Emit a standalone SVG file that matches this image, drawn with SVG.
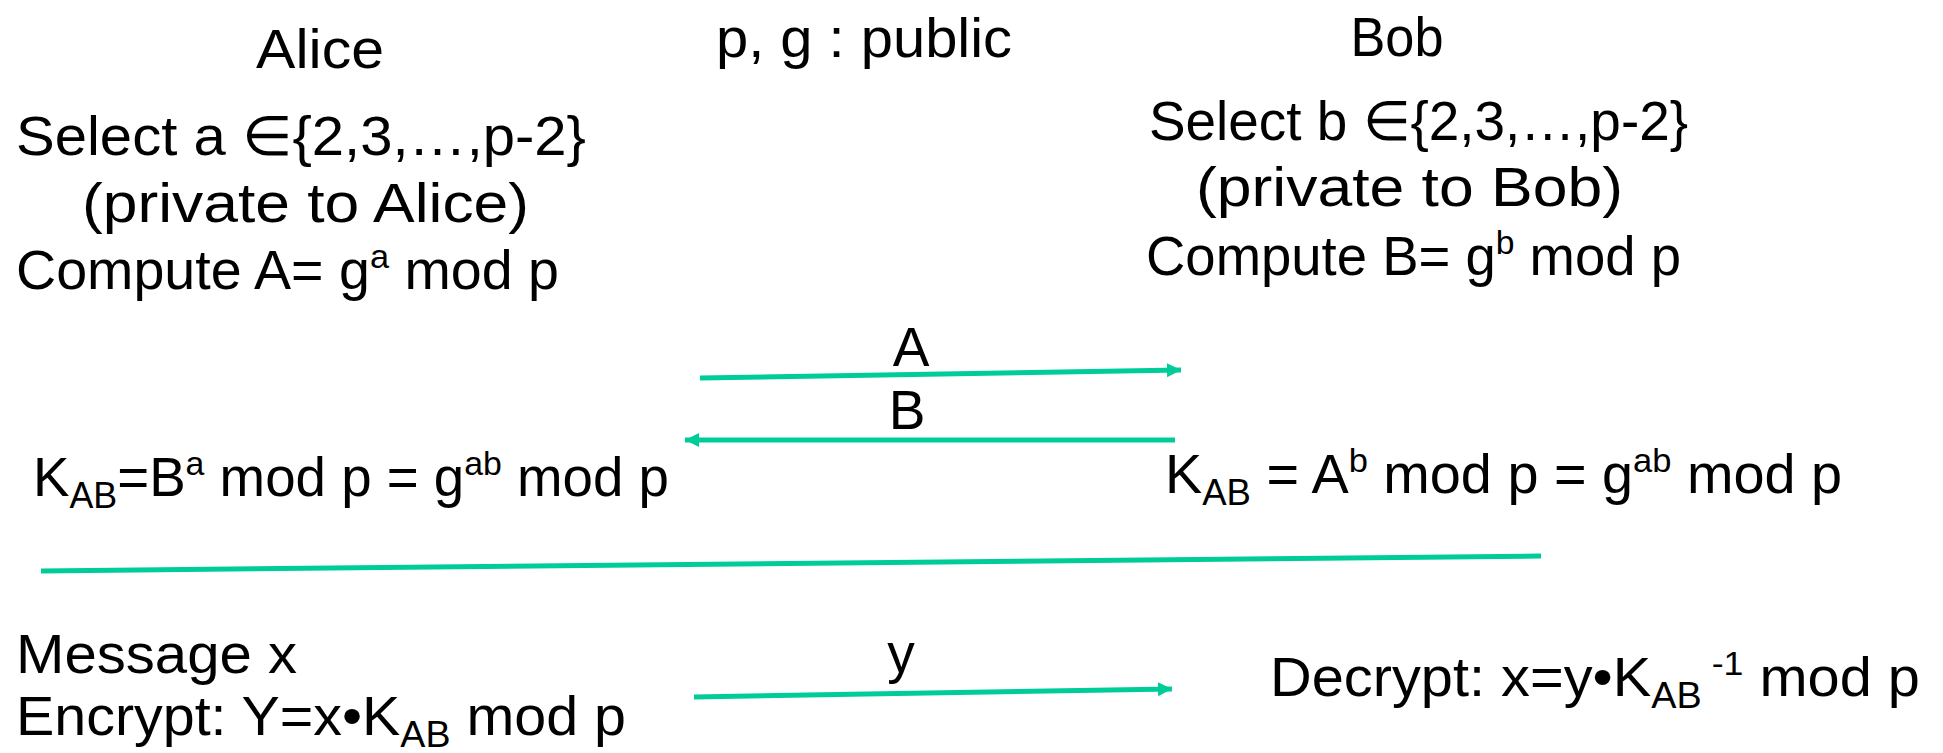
<svg xmlns="http://www.w3.org/2000/svg" width="1943" height="753" viewBox="0 0 1943 753">
  <style>
    text { font-family: "Liberation Sans", Arial, sans-serif; font-size: 55px; fill: #000; }
    .sup { font-size: 34px; }
    .sub { font-size: 36px; }
    .mid { text-anchor: middle; }
    .conn { stroke: #00CC99; stroke-width: 5; fill: none; }
  </style>
  <defs>
    <marker id="head" markerUnits="userSpaceOnUse" markerWidth="16" markerHeight="16" refX="14" refY="7" orient="auto">
      <path d="M0,0 L14,7 L0,14 z" fill="#00CC99"/>
    </marker>
  </defs>

  <g id="alice">
    <text class="mid" x="320" y="68" textLength="128" lengthAdjust="spacingAndGlyphs">Alice</text>
  </g>
  <g id="public">
    <text x="716" y="57" textLength="296" lengthAdjust="spacingAndGlyphs">p, g : public</text>
  </g>
  <g id="bob">
    <text class="mid" x="1397" y="56" textLength="93" lengthAdjust="spacingAndGlyphs">Bob</text>
  </g>

  <g id="alice-select">
    <text x="16" y="155" textLength="570" lengthAdjust="spacingAndGlyphs">Select a ∈{2,3,…,p-2}</text>
    <text x="82" y="222" textLength="447" lengthAdjust="spacingAndGlyphs">(private to Alice)</text>
    <text x="16" y="289" textLength="543" lengthAdjust="spacingAndGlyphs">Compute A= g<tspan class="sup" dy="-21">a</tspan><tspan dy="21"> mod p</tspan></text>
  </g>

  <g id="bob-select">
    <text x="1149" y="140" textLength="539" lengthAdjust="spacingAndGlyphs">Select b ∈{2,3,…,p-2}</text>
    <text x="1196" y="206" textLength="427" lengthAdjust="spacingAndGlyphs">(private to Bob)</text>
    <text x="1146" y="275" textLength="535" lengthAdjust="spacingAndGlyphs">Compute B= g<tspan class="sup" dy="-21">b</tspan><tspan dy="21"> mod p</tspan></text>
  </g>

  <g id="alice-key">
    <text x="33" y="496" textLength="636" lengthAdjust="spacingAndGlyphs">K<tspan class="sub" dy="12">AB</tspan><tspan dy="-12">=B</tspan><tspan class="sup" dy="-21">a</tspan><tspan dy="21"> mod p = g</tspan><tspan class="sup" dy="-21">ab</tspan><tspan dy="21"> mod p</tspan></text>
  </g>

  <g id="bob-key">
    <text x="1165" y="493" textLength="677" lengthAdjust="spacingAndGlyphs">K<tspan class="sub" dy="12">AB</tspan><tspan dy="-12"> = A</tspan><tspan class="sup" dy="-21">b</tspan><tspan dy="21"> mod p = g</tspan><tspan class="sup" dy="-21">ab</tspan><tspan dy="21"> mod p</tspan></text>
  </g>

  <g id="message">
    <text x="16" y="673" textLength="281" lengthAdjust="spacingAndGlyphs">Message x</text>
    <text x="16" y="735" textLength="610" lengthAdjust="spacingAndGlyphs">Encrypt: Y=x•K<tspan class="sub" dy="12">AB</tspan><tspan dy="-12"> mod p</tspan></text>
  </g>

  <g id="decrypt">
    <text x="1270" y="696" textLength="650" lengthAdjust="spacingAndGlyphs">Decrypt: x=y•K<tspan class="sub" dy="12">AB</tspan><tspan class="sup" dy="-33"> -1</tspan><tspan dy="21"> mod p</tspan></text>
  </g>

  <g id="connectors">
    <line class="conn" x1="700" y1="378" x2="1181" y2="370" marker-end="url(#head)"/>
    <text class="mid" x="911" y="366">A</text>
    <line class="conn" x1="1175" y1="440" x2="685" y2="440" marker-end="url(#head)"/>
    <text class="mid" x="907" y="429">B</text>
    <line class="conn" x1="41" y1="571" x2="1541" y2="556"/>
    <line class="conn" x1="694" y1="697" x2="1172" y2="689" marker-end="url(#head)"/>
    <text class="mid" x="901" y="672">y</text>
  </g>
</svg>
